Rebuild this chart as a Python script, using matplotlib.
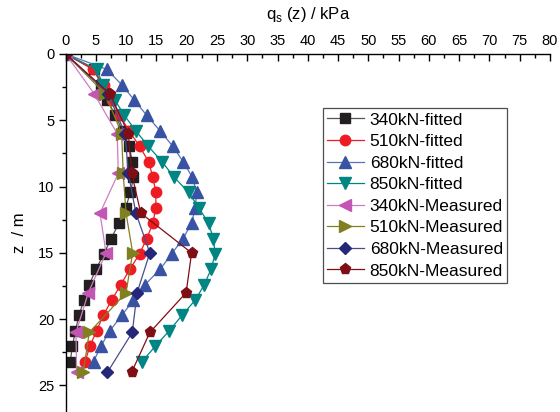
import matplotlib
matplotlib.use("Agg")
import matplotlib.pyplot as plt
from matplotlib.ticker import MultipleLocator

plt.rcParams['font.family'] = ['Liberation Sans', 'DejaVu Sans']

# depths of the fitted curves (m)
z_fit = [0.0, 1.16, 2.32, 3.48, 4.64, 5.80, 6.96, 8.12, 9.28, 10.44, 11.60,
         12.76, 13.92, 15.08, 16.24, 17.40, 18.56, 19.72, 20.88, 22.04, 23.20]
# depths of the measured points (m)
z_meas = [0, 3, 6, 9, 12, 15, 18, 21, 24]

q_340_fit = [0, 4.6, 5.9, 6.9, 8.2, 9.4, 10.5, 11.0, 11.2, 10.7, 9.9,
             8.8, 7.5, 6.3, 5.0, 3.9, 3.0, 2.2, 1.6, 1.1, 0.76]
q_510_fit = [0, 4.5, 6.3, 7.6, 8.9, 10.5, 12.2, 13.7, 14.4, 14.9, 14.9,
             14.4, 13.4, 12.2, 10.6, 9.1, 7.6, 6.2, 5.1, 4.0, 3.2]
q_680_fit = [0, 6.8, 9.25, 11.35, 13.4, 15.6, 17.7, 19.4, 20.9, 21.65, 21.4,
             20.8, 19.4, 17.5, 15.6, 13.1, 11.2, 9.25, 7.3, 5.8, 4.6]
q_850_fit = [0, 5.1, 6.2, 8.15, 9.7, 11.6, 13.65, 15.9, 17.9, 20.3, 22.0,
             23.6, 24.4, 24.7, 24.0, 22.9, 21.4, 19.2, 17.1, 14.8, 12.6]

q_340_meas = [0, 4.7, 8.5, 8.7, 5.67, 6.66, 3.74, 1.7, 1.8]
q_510_meas = [0, 6.5, 9.25, 9.5, 9.97, 11.07, 9.97, 3.9, 2.9]
q_680_meas = [0, 7.0, 9.8, 10.35, 11.6, 13.9, 11.8, 11.0, 6.9]
q_850_meas = [0, 7.3, 10.35, 10.9, 12.4, 20.8, 19.9, 13.9, 10.9]

labels = ['340kN-fitted', '510kN-fitted', '680kN-fitted', '850kN-fitted',
          '340kN-Measured', '510kN-Measured', '680kN-Measured', '850kN-Measured']

series = [
    (q_340_fit, z_fit, '#231f20', '#555555', 's', 6.5),
    (q_510_fit, z_fit, '#ed1c24', '#ed1c24', 'o', 7.5),
    (q_680_fit, z_fit, '#3953a4', '#5a72b8', '^', 8.0),
    (q_850_fit, z_fit, '#008583', '#008583', 'v', 8.0),
    (q_340_meas, z_meas, '#c355b5', '#cf7cc4', '<', 8.0),
    (q_510_meas, z_meas, '#808021', '#808021', '>', 8.0),
    (q_680_meas, z_meas, '#252878', '#4a4c8c', 'D', 6.5),
    (q_850_meas, z_meas, '#7f0f14', '#7f0f14', 'p', 8.0),
]

fig = plt.figure(figsize=(5.6, 4.12), dpi=100)
ax = fig.add_axes([0.1173, 0.0, 0.8647, 0.869])

for (q, z, mc, lc, mk, ms), lab in zip(series, labels):
    ax.plot(q, z, color=lc, lw=0.9, marker=mk, markersize=ms,
            markerfacecolor=mc, markeredgecolor=mc, label=lab)

ax.set_xlim(0, 80)
ax.set_ylim(27, 0)

ax.xaxis.set_major_locator(MultipleLocator(5))
ax.xaxis.set_minor_locator(MultipleLocator(2.5))
ax.yaxis.set_major_locator(MultipleLocator(5))
ax.yaxis.set_minor_locator(MultipleLocator(2.5))

ax.xaxis.tick_top()
ax.xaxis.set_label_position('top')
ax.spines['right'].set_visible(False)
ax.spines['bottom'].set_visible(False)
for s in ('top', 'left'):
    ax.spines[s].set_linewidth(1.0)

ax.tick_params(axis='x', which='major', direction='in', length=5, width=1.0,
               labelsize=10.5, pad=4, top=True, bottom=False)
ax.tick_params(axis='x', which='minor', direction='in', length=2.8, width=1.0,
               top=True, bottom=False)
ax.tick_params(axis='y', which='major', direction='out', length=5, width=1.0,
               labelsize=10.5, pad=3)
ax.tick_params(axis='y', which='minor', direction='out', length=2.8, width=1.0)

ax.set_xlabel(r'q$_\mathregular{s}$ (z) / kPa', fontsize=12, labelpad=11)
ax.set_ylabel('z  / m', fontsize=12, labelpad=8)

leg = ax.legend(loc='upper left', bbox_to_anchor=(0.531, 0.849), fontsize=12.5,
                frameon=True, fancybox=False, edgecolor='#222222',
                handlelength=2.1, handletextpad=0.35, labelspacing=0.37,
                borderpad=0.25, borderaxespad=0.0)
leg.get_frame().set_linewidth(0.9)

fig.savefig('out.png', dpi=100)
